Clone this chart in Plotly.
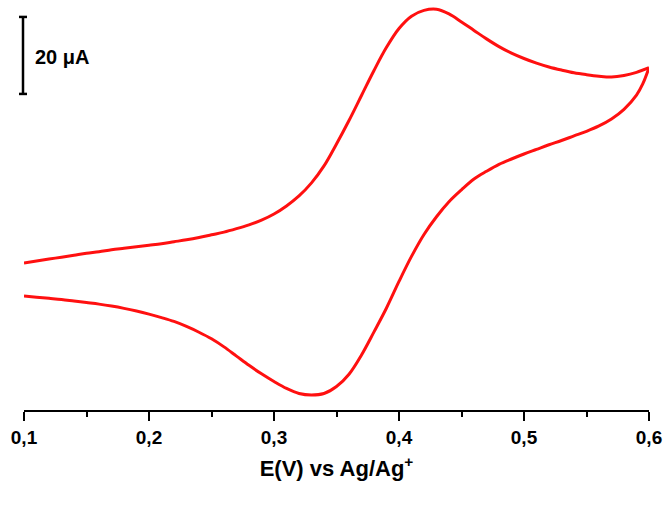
import plotly.graph_objects as go

# Forward (anodic) scan: potential in V, current in µA
E_forward = [0.10, 0.11, 0.12, 0.13, 0.14, 0.15, 0.16, 0.17, 0.18, 0.19,
             0.20, 0.21, 0.22, 0.23, 0.24, 0.25, 0.26, 0.27, 0.28, 0.29,
             0.30, 0.31, 0.32, 0.33, 0.34, 0.35, 0.36, 0.37, 0.38, 0.39,
             0.40, 0.41, 0.42, 0.43, 0.44, 0.45, 0.46, 0.47, 0.48, 0.49,
             0.50, 0.51, 0.52, 0.53, 0.54, 0.55, 0.56, 0.57, 0.58, 0.59, 0.60]
I_forward = [17.4, 17.9, 18.4, 18.9, 19.4, 19.9, 20.3, 20.8, 21.2, 21.6,
             22.0, 22.4, 22.9, 23.4, 24.0, 24.7, 25.4, 26.3, 27.3, 28.5,
             30.1, 32.2, 34.8, 38.2, 42.6, 48.3, 54.4, 60.9, 67.4, 73.4,
             78.3, 81.5, 83.0, 83.3, 82.1, 80.0, 77.8, 75.6, 73.6, 71.9,
             70.5, 69.3, 68.3, 67.5, 66.8, 66.3, 65.9, 65.7, 66.1, 66.9, 68.1]

# Reverse (cathodic) scan
E_reverse = [0.600, 0.595, 0.590, 0.580, 0.570, 0.560, 0.550, 0.540, 0.530, 0.520,
             0.510, 0.500, 0.490, 0.480, 0.470, 0.460, 0.450, 0.440, 0.430, 0.420,
             0.410, 0.400, 0.390, 0.380, 0.370, 0.360, 0.350, 0.340, 0.330, 0.320,
             0.310, 0.300, 0.290, 0.280, 0.270, 0.260, 0.250, 0.240, 0.230, 0.220,
             0.210, 0.200, 0.190, 0.180, 0.170, 0.160, 0.150, 0.140, 0.130, 0.120,
             0.110, 0.100]
I_reverse = [68.1, 63.9, 61.0, 57.3, 54.8, 53.0, 51.6, 50.4, 49.2, 48.1,
             46.9, 45.7, 44.4, 43.0, 41.2, 39.2, 36.4, 33.3, 29.4, 24.8,
             19.1, 12.6, 5.7, -0.5, -6.5, -11.5, -14.7, -16.5, -16.9, -16.5,
             -15.2, -13.4, -11.4, -9.2, -6.8, -4.4, -2.3, -0.6, 0.9, 2.2,
             3.2, 4.1, 4.9, 5.6, 6.2, 6.7, 7.1, 7.5, 7.9, 8.2,
             8.5, 8.8]

tick_vals = [0.1, 0.2, 0.3, 0.4, 0.5, 0.6]
tick_text = ["0,1", "0,2", "0,3", "0,4", "0,5", "0,6"]
minor_vals = [0.15, 0.25, 0.35, 0.45, 0.55]

scale_bar_uA = 20
scale_bar_top = 81.3

x_range = [0.1, 0.6]
y_range = [-20.8, 84.4]

FONT = "Liberation Sans, Arial, sans-serif"
RED = "#ff1010"

fig = go.Figure()
for ex, iy in ((E_forward, I_forward), (E_reverse, I_reverse)):
    fig.add_trace(go.Scatter(x=ex, y=iy, mode="lines",
                             line=dict(color=RED, width=3, shape="spline", smoothing=1.0),
                             showlegend=False, hoverinfo="skip"))

# Scale bar (20 µA) placed just left of the plotting area, sized from the y scale
def to_paper(v):
    return (v - y_range[0]) / (y_range[1] - y_range[0])

y0 = to_paper(scale_bar_top - scale_bar_uA)
y1 = to_paper(scale_bar_top)
bar = dict(color="black", width=2.5)
fig.add_shape(type="line", xref="paper", yref="paper", xsizemode="pixel", xanchor=0,
              x0=-1, x1=-1, y0=y0, y1=y1, line=bar)
for yy in (y0, y1):
    fig.add_shape(type="line", xref="paper", yref="paper", xsizemode="pixel", xanchor=0,
                  x0=-5, x1=3, y0=yy, y1=yy, line=bar)
fig.add_annotation(x=0, y=(y0 + y1) / 2, xref="paper", yref="paper",
                   text="<b>20 μA</b>", showarrow=False, xanchor="left", yanchor="middle",
                   xshift=9, yshift=-2, font=dict(family=FONT, size=20, color="black"))

fig.update_layout(
    width=666, height=505,
    margin=dict(l=24, r=17, t=5, b=95),
    paper_bgcolor="white", plot_bgcolor="white",
    xaxis=dict(range=x_range, tickvals=tick_vals, ticktext=tick_text,
               showline=True, linecolor="black", linewidth=2,
               ticks="outside", ticklen=9, tickwidth=2, tickcolor="black",
               minor=dict(tickvals=minor_vals, ticks="outside",
                          ticklen=5, tickwidth=2, tickcolor="black"),
               showgrid=False, zeroline=False,
               tickfont=dict(family=FONT, size=19, color="black", weight="bold"),
               title=dict(text="<b>E(V) vs Ag/Ag<sup>+</sup></b>", standoff=14,
                          font=dict(family=FONT, size=22, color="black"))),
    yaxis=dict(range=y_range, visible=False, showgrid=False, zeroline=False),
)

fig.write_html("out.html", config={"displayModeBar": False},
               post_script="document.body.style.margin='0';")
